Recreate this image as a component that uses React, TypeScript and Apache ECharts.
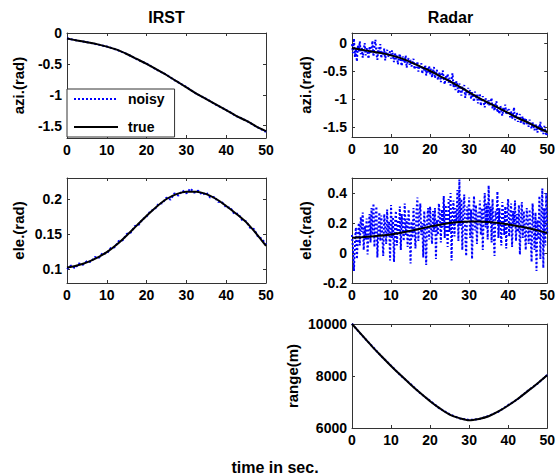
import React, { useEffect, useRef } from "react";
import * as echarts from "echarts";

const TITLES = ["IRST", "Radar"];
const X_LABEL = "time in sec.";
const Y_NAMES = ["azi.(rad)", "azi.(rad)", "ele.(rad)", "ele.(rad)", "range(m)"];
const X_TICKS = [0, 10, 20, 30, 40, 50];
const Y_TICKS = [
  [-1.5, -1, -0.5, 0],
  [-1.5, -1, -0.5, 0],
  [0.1, 0.15, 0.2],
  [-0.2, 0, 0.2, 0.4],
  [6000, 8000, 10000],
];
const Y_MIN = [-1.7, -1.68, 0.08, -0.2, 6000];
const Y_MAX = [0, 0.18, 0.23, 0.5, 10000];
const LEGEND_NAMES = ["noisy", "true"];

const T_TRUE = [0, 2.5, 5, 7.5, 10, 12.5, 15, 17.5, 20, 22.5, 25, 27.5, 30, 32.5, 35, 37.5, 40, 42.5, 45, 47.5, 50];
const AZI_TRUE = [-0.09, -0.12, -0.15, -0.18, -0.22, -0.27, -0.34, -0.42, -0.5, -0.59, -0.68, -0.78, -0.88, -0.98, -1.07, -1.16, -1.25, -1.34, -1.42, -1.51, -1.59];
const ELE_TRUE = [0.102, 0.105, 0.1095, 0.116, 0.124, 0.135, 0.148, 0.162, 0.176, 0.189, 0.2, 0.207, 0.2105, 0.2105, 0.207, 0.2, 0.19, 0.179, 0.167, 0.151, 0.133];
const RANGE_TRUE = [10000, 9580, 9161, 8770, 8387, 8025, 7677, 7345, 7032, 6755, 6516, 6380, 6297, 6350, 6452, 6635, 6865, 7125, 7419, 7715, 8026];

const AZI_IRST_NOISY = [-0.085, -0.123, -0.148, -0.183, -0.218, -0.272, -0.337, -0.423, -0.497, -0.594, -0.677, -0.784, -0.876, -0.984, -1.066, -1.164, -1.247, -1.344, -1.417, -1.514, -1.6];
const RANGE_NOISY = [10010, 9570, 9175, 8760, 8400, 8015, 7690, 7335, 7045, 6745, 6530, 6370, 6310, 6340, 6465, 6625, 6880, 7115, 7430, 7705, 8040];

// IRST elevation measurements, one per second
const T_IRST_ELE = Array.from({ length: 51 }, (_, i) => i);
const ELE_IRST_NOISY = [
  0.100, 0.105, 0.101, 0.108, 0.106, 0.111, 0.110, 0.117, 0.116, 0.123,
  0.122, 0.130, 0.131, 0.140, 0.141, 0.150, 0.152, 0.161, 0.163, 0.171,
  0.175, 0.183, 0.185, 0.193, 0.194, 0.202, 0.199, 0.208, 0.205, 0.212,
  0.208, 0.215, 0.209, 0.212, 0.206, 0.209, 0.202, 0.203, 0.196, 0.195,
  0.188, 0.188, 0.179, 0.179, 0.170, 0.168, 0.159, 0.157, 0.146, 0.143,
  0.135,
];

// Radar measurements, one per quarter second
const T_RADAR = Array.from({ length: 201 }, (_, i) => i * 0.25);
const AZI_RADAR_NOISY = [
  -0.02, -0.18, 0.08, -0.25, -0.10, -0.33, -0.04, -0.15, 0.03, -0.20, -0.08, -0.26, -0.12, 0.00, -0.22, -0.09, -0.17, -0.28, -0.06, -0.19,
  -0.11, 0.04, -0.24, -0.05, 0.06, -0.19, -0.30, -0.08, -0.16, -0.02, -0.27, -0.14, -0.22, -0.10, -0.31, -0.18, -0.12, -0.25, -0.20, -0.15,
  -0.28, -0.13, -0.24, -0.34, -0.17, -0.29, -0.21, -0.38, -0.26, -0.19, -0.33, -0.41, -0.24, -0.30, -0.36, -0.22, -0.44, -0.31, -0.27, -0.39,
  -0.30, -0.42, -0.35, -0.28, -0.47, -0.37, -0.44, -0.33, -0.51, -0.40, -0.46, -0.36, -0.55, -0.43, -0.49, -0.39, -0.58, -0.45, -0.52, -0.41,
  -0.56, -0.46, -0.61, -0.50, -0.43, -0.63, -0.54, -0.48, -0.66, -0.57, -0.52, -0.70, -0.59, -0.49, -0.64, -0.74, -0.58, -0.67, -0.55, -0.71,
  -0.62, -0.76, -0.66, -0.54, -0.79, -0.70, -0.84, -0.68, -0.77, -0.90, -0.72, -0.82, -0.94, -0.78, -0.86, -0.75, -0.98, -0.83, -0.91, -0.80,
  -0.93, -0.84, -1.00, -0.88, -0.96, -1.05, -0.87, -0.99, -0.92, -1.08, -0.97, -0.90, -1.12, -1.01, -0.95, -1.07, -1.15, -0.99, -1.04, -1.10,
  -1.02, -1.13, -1.06, -0.98, -1.18, -1.09, -1.21, -1.11, -1.04, -1.24, -1.15, -1.27, -1.12, -1.20, -1.30, -1.16, -1.23, -1.10, -1.28, -1.19,
  -1.26, -1.18, -1.33, -1.22, -1.36, -1.28, -1.15, -1.38, -1.30, -1.25, -1.41, -1.33, -1.27, -1.44, -1.36, -1.31, -1.47, -1.38, -1.34, -1.45,
  -1.40, -1.50, -1.37, -1.46, -1.53, -1.42, -1.49, -1.56, -1.44, -1.52, -1.60, -1.47, -1.55, -1.41, -1.58, -1.51, -1.63, -1.48, -1.57, -1.66,
  -1.62,
];
const ELE_RADAR_NOISY = [
  0.12, 0.03, -0.12, 0.08, 0.17, -0.04, 0.10, 0.20, 0.05, 0.24, 0.14, 0.27, 0.02, 0.18, 0.09, 0.23, -0.01, 0.16, 0.26, 0.07,
  0.30, 0.12, 0.33, 0.04, 0.22, 0.31, -0.03, 0.15, 0.27, 0.08, 0.25, 0.13, -0.02, 0.26, 0.18, 0.06, 0.29, 0.11, 0.21, -0.05,
  0.32, 0.10, 0.24, -0.06, 0.19, 0.28, 0.05, 0.22, 0.14, 0.31, 0.02, 0.26, 0.17, 0.08, 0.33, 0.12, 0.23, 0.04, 0.29, 0.15,
  -0.07, 0.21, 0.10, 0.30, 0.16, 0.03, 0.27, 0.37, 0.08, 0.24, 0.33, 0.12, 0.20, -0.03, 0.28, 0.14, -0.08, 0.23, 0.30, 0.09,
  0.31, 0.18, 0.06, 0.28, 0.14, 0.30, -0.04, 0.22, 0.12, 0.33, 0.25, 0.07, 0.29, 0.17, 0.38, 0.10, 0.32, 0.21, 0.04, 0.36,
  0.14, 0.40, -0.05, 0.26, 0.35, 0.11, 0.30, 0.20, 0.42, 0.08, 0.49, 0.18, 0.36, 0.02, 0.28, 0.39, 0.13, -0.02, 0.31, 0.22,
  0.37, 0.10, 0.29, -0.04, 0.24, 0.38, 0.15, 0.32, 0.06, 0.27, 0.19, 0.35, 0.12, 0.30, 0.02, 0.26, 0.40, 0.17, 0.33, 0.09,
  0.45, 0.20, 0.31, 0.07, 0.36, 0.14, -0.02, 0.28, 0.22, 0.41, 0.10, 0.30, 0.17, 0.05, 0.34, 0.25, 0.12, 0.31, 0.03, 0.27,
  0.36, 0.11, 0.24, 0.33, 0.04, 0.28, 0.19, 0.35, 0.08, 0.26, 0.14, 0.32, -0.01, 0.22, 0.34, 0.10, 0.28, 0.16, 0.02, 0.30,
  0.21, 0.06, 0.29, 0.12, -0.06, 0.33, 0.18, 0.02, 0.27, -0.12, 0.22, 0.09, 0.38, -0.04, 0.25, 0.43, -0.10, 0.30, 0.05, 0.40,
  0.12,
];

const FONT = "Liberation Sans, Arial, Helvetica, sans-serif";
const FS = 14;
const NAME_FS = 15;
const TITLE_FS = 16;
const AXIS_COLOR = "#333333";
const BLUE = "#0000ff";

const GRIDS = [
  { left: 67, top: 33, width: 199, height: 105 },
  { left: 352, top: 33, width: 197, height: 104 },
  { left: 67, top: 178, width: 199, height: 105 },
  { left: 352, top: 178, width: 197, height: 105 },
  { left: 352, top: 324, width: 198, height: 104 },
];
const NAME_GAPS = [41, 39, 41, 39, 52];

const pairs = (t: number[], v: number[]) => t.map((x, i) => [x, v[i]]);

export default function App() {
  const ref = useRef<HTMLDivElement>(null);
  useEffect(() => {
    document.body.style.margin = "0";
    if (!ref.current) return;
    const chart = echarts.init(ref.current, null, { renderer: "svg" });

    const xAxis: any[] = [];
    const yAxis: any[] = [];
    const fmt = (v: number) => String(v);
    GRIDS.forEach((_, i) => {
      const tickCommon = { show: true, inside: true, length: 3, lineStyle: { color: AXIS_COLOR } };
      const lineCommon = { show: true, onZero: false, lineStyle: { color: AXIS_COLOR, width: 1 } };
      xAxis.push({
        type: "value", gridIndex: i, min: 0, max: 50, position: "bottom",
        axisLine: lineCommon,
        axisTick: { ...tickCommon, customValues: X_TICKS },
        axisLabel: { show: true, customValues: X_TICKS, formatter: fmt, margin: 5, color: "#000", fontFamily: FONT, fontSize: FS, fontWeight: "bold" },
        splitLine: { show: false },
      });
      xAxis.push({
        type: "value", gridIndex: i, min: 0, max: 50, position: "top",
        axisLine: lineCommon,
        axisTick: { ...tickCommon, customValues: X_TICKS },
        axisLabel: { show: false },
        splitLine: { show: false },
      });
      yAxis.push({
        type: "value", gridIndex: i, min: Y_MIN[i], max: Y_MAX[i], position: "left",
        name: Y_NAMES[i], nameLocation: "middle", nameGap: NAME_GAPS[i],
        nameTextStyle: { color: "#000", fontFamily: FONT, fontSize: NAME_FS, fontWeight: "bold" },
        axisLine: lineCommon,
        axisTick: { ...tickCommon, customValues: Y_TICKS[i] },
        axisLabel: { show: true, customValues: Y_TICKS[i], formatter: fmt, margin: 5, color: "#000", fontFamily: FONT, fontSize: FS, fontWeight: "bold" },
        splitLine: { show: false },
      });
      yAxis.push({
        type: "value", gridIndex: i, min: Y_MIN[i], max: Y_MAX[i], position: "right",
        axisLine: lineCommon,
        axisTick: { ...tickCommon, customValues: Y_TICKS[i] },
        axisLabel: { show: false },
        splitLine: { show: false },
      });
    });

    const noisy = (gi: number, data: number[][]) => ({
      name: LEGEND_NAMES[0], type: "line", xAxisIndex: gi * 2, yAxisIndex: gi * 2,
      data, symbol: "none", smooth: false,
      lineStyle: { color: BLUE, width: 2, type: [2, 2] },
      itemStyle: { color: BLUE },
      z: 2,
    });
    const truth = (gi: number, data: number[][]) => ({
      name: LEGEND_NAMES[1], type: "line", xAxisIndex: gi * 2, yAxisIndex: gi * 2,
      data, symbol: "none", smooth: 0.3,
      lineStyle: { color: "#000", width: 2, type: "solid" },
      itemStyle: { color: "#000" },
      z: 3,
    });

    const series = [
      noisy(0, pairs(T_TRUE, AZI_IRST_NOISY)),
      truth(0, pairs(T_TRUE, AZI_TRUE)),
      noisy(1, pairs(T_RADAR, AZI_RADAR_NOISY)),
      truth(1, pairs(T_TRUE, AZI_TRUE)),
      noisy(2, pairs(T_IRST_ELE, ELE_IRST_NOISY)),
      truth(2, pairs(T_TRUE, ELE_TRUE)),
      noisy(3, pairs(T_RADAR, ELE_RADAR_NOISY)),
      truth(3, pairs(T_TRUE, ELE_TRUE)),
      noisy(4, pairs(T_TRUE, RANGE_NOISY)),
      truth(4, pairs(T_TRUE, RANGE_TRUE)),
    ];

    chart.setOption({
      animation: false,
      backgroundColor: "#ffffff",
      grid: GRIDS.map((g) => ({ ...g, containLabel: false })),
      xAxis,
      yAxis,
      series,
      legend: {
        data: LEGEND_NAMES.map((n) => ({ name: n })),
        orient: "vertical",
        left: 67,
        top: 89,
        padding: [3, 10, 3, 6],
        itemWidth: 44,
        itemHeight: 14,
        itemGap: 14,
        itemStyle: { opacity: 0 },
        backgroundColor: "#ffffff",
        borderColor: AXIS_COLOR,
        borderWidth: 1,
        selectedMode: false,
        textStyle: { color: "#000", fontFamily: FONT, fontSize: FS, fontWeight: "bold", padding: [0, 0, 0, 5] },
        z: 10,
      },
      graphic: [
        { type: "text", x: 166.5, y: 17, style: { text: TITLES[0], font: `bold ${TITLE_FS}px ${FONT}`, fill: "#000", align: "center", verticalAlign: "middle" } },
        { type: "text", x: 450.5, y: 17, style: { text: TITLES[1], font: `bold ${TITLE_FS}px ${FONT}`, fill: "#000", align: "center", verticalAlign: "middle" } },
        { type: "text", x: 275, y: 467, style: { text: X_LABEL, font: `bold ${TITLE_FS}px ${FONT}`, fill: "#000", align: "center", verticalAlign: "middle" } },
      ],
    });
    return () => chart.dispose();
  }, []);
  return <div ref={ref} style={{ width: 558, height: 475 }} />;
}
